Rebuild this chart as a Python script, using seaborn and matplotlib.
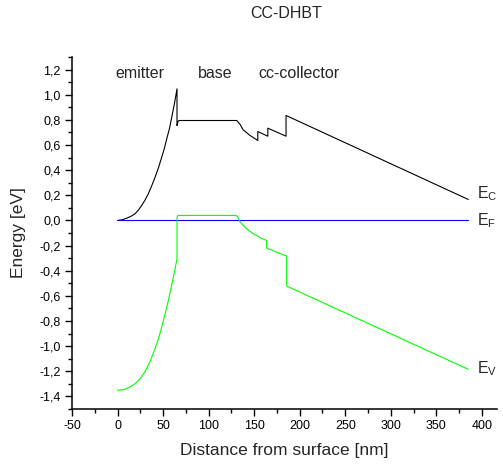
import numpy as np
import pandas as pd
import seaborn as sns
import matplotlib
matplotlib.use('Agg')
import matplotlib.pyplot as plt
from matplotlib.ticker import FuncFormatter, MultipleLocator

# conduction band edge
ec_x = [0, 5, 10.1, 15, 19.2, 23, 26.5, 30, 33.8, 37.5, 41.2, 45, 48.5, 51.5, 54, 57, 59.5, 62.5, 65.3,
        65.3, 66.5, 68, 131, 134.6, 138, 145.4, 154, 154, 165, 165, 185, 185, 385]
ec_y = [0, 0.005, 0.018, 0.034, 0.053, 0.083, 0.119, 0.16, 0.212, 0.275, 0.344, 0.42, 0.503, 0.575, 0.649, 0.73, 0.821, 0.93, 1.047,
        0.755, 0.79, 0.795, 0.795, 0.763, 0.72, 0.676, 0.636, 0.707, 0.67, 0.734, 0.67, 0.835, 0.167]

# valence band edge
ev_x = [0, 7, 13.7, 19.5, 24.7, 29.5, 33.8, 37.5, 41.2, 45, 48.5, 52, 55.8, 58.5, 61.3, 63.3, 65.3,
        65.3, 65.8, 67, 130, 132, 134.6, 141.8, 149, 154.6, 156.4, 163.7, 163.7, 185.7, 185.7, 385]
ev_y = [-1.351, -1.345, -1.325, -1.297, -1.259, -1.21, -1.153, -1.09, -1.02, -0.94, -0.848, -0.75, -0.636, -0.545, -0.45, -0.38, -0.305,
        0.015, 0.035, 0.04, 0.04, 0.03, -0.013, -0.066, -0.106, -0.127, -0.138, -0.159, -0.22, -0.284, -0.522, -1.184]

# Fermi level
ef_x = [0, 385]
ef_y = [0, 0]

regions = ['emitter', 'base', 'cc-collector']
region_x = [-2.7, 88.7, 154.6]

sns.set_style('ticks')
plt.rcParams['font.family'] = ['Liberation Sans', 'DejaVu Sans']
plt.rcParams['mathtext.default'] = 'regular'
plt.rcParams['axes.unicode_minus'] = False

fig = plt.figure(figsize=(5.03, 4.65), dpi=100)
ax = fig.add_axes([0.1431, 0.1204, 0.845, 0.757])

lw = 0.8
sns.lineplot(x=ec_x, y=ec_y, ax=ax, color='black', lw=lw, sort=False, estimator=None)
sns.lineplot(x=ef_x, y=ef_y, ax=ax, color='#0000ff', lw=lw, sort=False, estimator=None)
sns.lineplot(x=ev_x, y=ev_y, ax=ax, color='#00ff00', lw=lw, sort=False, estimator=None)

ax.set_xlim(-50, 416.6)
ax.set_ylim(-1.5, 1.3)
ax.xaxis.set_major_locator(MultipleLocator(50))
ax.xaxis.set_minor_locator(MultipleLocator(25))
ax.yaxis.set_major_locator(MultipleLocator(0.2))
ax.yaxis.set_minor_locator(MultipleLocator(0.1))
ax.xaxis.set_major_formatter(FuncFormatter(lambda v, p: '%d' % round(v)))
ax.yaxis.set_major_formatter(FuncFormatter(lambda v, p: ('%.1f' % v).replace('.', ',').replace('-0,0', '0,0')))

ax.tick_params(which='major', direction='out', length=5, width=1, labelsize=9, colors='black', pad=3)
ax.tick_params(which='minor', direction='out', length=3, width=1, colors='black')
for s in ['left', 'bottom']:
    ax.spines[s].set_linewidth(1.1)
    ax.spines[s].set_color('black')
sns.despine(ax=ax)

ax.set_xlabel('Distance from surface [nm]', fontsize=12.5, labelpad=8)
ax.set_ylabel('Energy [eV]', fontsize=12.5, labelpad=10)

for name, xv in zip(regions, region_x):
    ax.text(xv, 1.137, name, fontsize=11.5, ha='left', va='baseline')

ax.text(394.6, 0.179, '$E_C$', fontsize=11.5, ha='left', va='baseline')
ax.text(394.6, -0.036, '$E_F$', fontsize=11.5, ha='left', va='baseline')
ax.text(394.6, -1.216, '$E_V$', fontsize=11.5, ha='left', va='baseline')

fig.text(286 / 503, 1 - 13 / 465, 'CC-DHBT', fontsize=11.5, ha='center', va='center')

fig.savefig('out.png', dpi=100)
